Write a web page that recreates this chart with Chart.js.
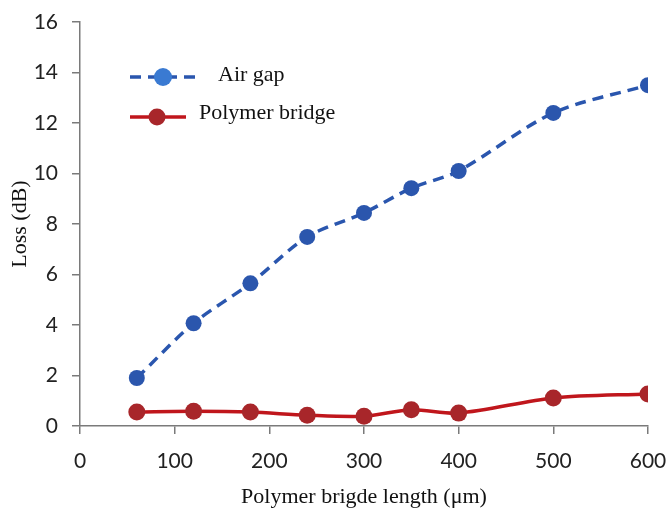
<!DOCTYPE html>
<html>
<head>
<meta charset="utf-8">
<script src="https://cdn.jsdelivr.net/npm/chart.js@4/dist/chart.umd.min.js"></script>
<style>
html,body{margin:0;padding:0;background:#fff;}
#wrap{width:669px;height:508px;position:relative;}
</style>
</head>
<body>
<div id="wrap"><canvas id="c" width="669" height="508"></canvas></div>
<script>
const lengths = [60, 120, 180, 240, 300, 350, 400, 500, 600];
const airGap = [1.9, 4.07, 5.65, 7.49, 8.44, 9.42, 10.1, 12.4, 13.5];
const polymerBridge = [0.55, 0.58, 0.55, 0.43, 0.39, 0.64, 0.51, 1.11, 1.27];
const xTicks = [0, 100, 200, 300, 400, 500, 600];
const yTicks = [0, 2, 4, 6, 8, 10, 12, 14, 16];
const seriesNames = ['Air gap', 'Polymer bridge'];

const toPts = (ys) => lengths.map((x, i) => ({x: x, y: ys[i]}));

const legendPlugin = {
  id: 'customLegend',
  afterDatasetsDraw(chart) {
    const ctx = chart.ctx;
    const a = chart.chartArea;
    const L = a.left, T = a.top;
    ctx.save();
    // Air gap entry
    const y1 = T + 55;
    ctx.strokeStyle = '#2A56AE';
    ctx.lineWidth = 3.5;
    ctx.setLineDash([11, 7]);
    ctx.beginPath(); ctx.moveTo(L + 50, y1); ctx.lineTo(L + 120, y1); ctx.stroke();
    ctx.setLineDash([]);
    ctx.fillStyle = '#3A7AD2';
    ctx.beginPath(); ctx.arc(L + 83, y1, 9, 0, Math.PI * 2); ctx.fill();
    // Polymer bridge entry
    const y2 = T + 95;
    ctx.strokeStyle = '#C0161C';
    ctx.lineWidth = 3.5;
    ctx.beginPath(); ctx.moveTo(L + 50, y2); ctx.lineTo(L + 106, y2); ctx.stroke();
    ctx.fillStyle = '#A8262A';
    ctx.beginPath(); ctx.arc(L + 77, y2, 8.5, 0, Math.PI * 2); ctx.fill();
    ctx.fillStyle = '#111';
    ctx.font = '22px "Liberation Serif"';
    ctx.textBaseline = 'middle';
    ctx.textAlign = 'left';
    ctx.fillText(seriesNames[0], L + 138, y1 - 2);
    ctx.fillText(seriesNames[1], L + 119, y2 - 4);
    ctx.restore();
  }
};

new Chart(document.getElementById('c'), {
  type: 'line',
  data: {
    datasets: [
      {
        label: seriesNames[0],
        data: toPts(airGap),
        borderColor: '#2A56AE',
        backgroundColor: '#2B56AD',
        borderWidth: 3.5,
        borderDash: [11, 7],
        pointRadius: 8,
        pointBackgroundColor: '#2B56AD',
        pointBorderWidth: 0,
        tension: 0.3,
        fill: false
      },
      {
        label: seriesNames[1],
        data: toPts(polymerBridge),
        borderColor: '#C0161C',
        backgroundColor: '#A8262A',
        borderWidth: 3.5,
        pointRadius: 8.5,
        pointBackgroundColor: '#A8262A',
        pointBorderWidth: 0,
        tension: 0.3,
        fill: false
      }
    ]
  },
  options: {
    responsive: false,
    animation: false,
    layout: {padding: {top: 22, right: 21, bottom: 0, left: 0}},
    plugins: {legend: {display: false}, tooltip: {enabled: false}},
    scales: {
      x: {
        type: 'linear',
        min: 0, max: 600,
        afterBuildTicks(s) { s.ticks = xTicks.map(v => ({value: v})); },
        afterFit(s) { s.height = 82; s.paddingLeft = 0; s.paddingRight = 0; },
        grid: {drawOnChartArea: false, drawTicks: true, tickLength: 8, color: '#7a7a7a', lineWidth: 1.5},
        border: {display: true, color: '#7a7a7a', width: 1.5},
        ticks: {font: {family: 'Lato', size: 21}, color: '#222', padding: 15},
        title: {display: true, text: 'Polymer brigde length (μm)', font: {family: 'Liberation Serif', size: 22, lineHeight: 1.0}, color: '#111', padding: {top: 0, bottom: 0}}
      },
      y: {
        min: 0, max: 16,
        afterBuildTicks(s) { s.ticks = yTicks.map(v => ({value: v})); },
        afterFit(s) { s.width = 80; s.paddingTop = 0; s.paddingBottom = 0; },
        grid: {drawOnChartArea: false, drawTicks: true, tickLength: 8, color: '#7a7a7a', lineWidth: 1.5},
        border: {display: true, color: '#7a7a7a', width: 1.5},
        ticks: {font: {family: 'Lato', size: 21}, color: '#222', padding: 14},
        title: {display: true, text: 'Loss (dB)', font: {family: 'Liberation Serif', size: 22, lineHeight: 1.0}, color: '#111', padding: {top: 9, bottom: 0}}
      }
    }
  },
  plugins: [legendPlugin]
});
</script>
</body>
</html>
